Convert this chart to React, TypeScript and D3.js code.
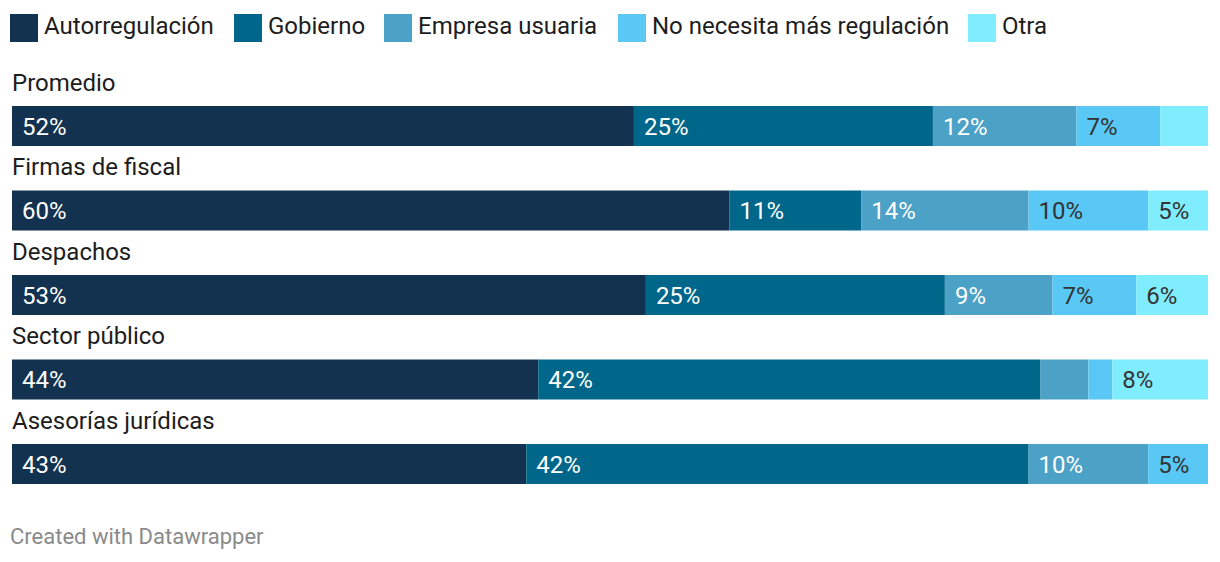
import React from "react";
import * as d3 from "d3";

const categories = ["Promedio", "Firmas de fiscal", "Despachos", "Sector público", "Asesorías jurídicas"];
const seriesNames = ["Autorregulación", "Gobierno", "Empresa usuaria", "No necesita más regulación", "Otra"];
const autorregulacion = [52, 60, 53, 44, 43];
const gobierno = [25, 11, 25, 42, 42];
const empresaUsuaria = [12, 14, 9, 4, 10];
const noNecesita = [7, 10, 7, 2, 5];
const otra = [4, 5, 6, 8, 0];
const colors = ["#12324f", "#00678a", "#4ca1c6", "#5ac8f5", "#80edfe"];
const textColors = ["#ffffff", "#ffffff", "#ffffff", "#333333", "#333333"];

const W = 1220;
const H = 562;
const FONT = "Roboto, 'Noto Sans', sans-serif";

export default function App() {
  const series = [autorregulacion, gobierno, empresaUsuaria, noNecesita, otra];
  const x = d3.scaleLinear().domain([0, 100]).range([12, 1208]);
  const y = d3.scaleLinear().domain([0, 4]).range([106, 444]);
  const barH = 40;

  const rows = categories.map((c, i) => {
    let acc = 0;
    const segs = series.map((s, k) => {
      const v = s[i];
      const x0 = x(acc);
      acc += v;
      const x1 = x(acc);
      return { k, v, x0, x1 };
    });
    return { c, i, segs };
  });

  const legendX = [10, 234, 384, 618, 968];

  return (
    <svg width={W} height={H} style={{ position: "absolute", left: 0, top: 0, fontFamily: FONT }}>
      <rect width={W} height={H} fill="#fff" />
      {seriesNames.map((n, k) => (
        <g key={n}>
          <rect x={legendX[k]} y={14} width={28} height={28} fill={colors[k]} />
          <text x={legendX[k] + 34} y={34} fontSize={24} fill="#1d1d1d">
            {n}
          </text>
        </g>
      ))}
      {rows.map((r) => (
        <g key={r.c}>
          <text x={12} y={y(r.i) - 15.5} fontSize={24} fill="#1d1d1d">
            {r.c}
          </text>
          {r.segs.map((s) =>
            s.v > 0 ? (
              <g key={s.k}>
                <rect x={s.x0} y={y(r.i)} width={s.x1 - s.x0} height={barH} fill={colors[s.k]} />
                {s.v >= 5 ? (
                  <text x={s.x0 + 10} y={y(r.i) + barH / 2 + 8.5} fontSize={24} fill={textColors[s.k]}>
                    {s.v}%
                  </text>
                ) : null}
              </g>
            ) : null
          )}
        </g>
      ))}
      <text x={10} y={544} fontSize={22} fill="#8a8a8a">
        Created with Datawrapper
      </text>
    </svg>
  );
}
